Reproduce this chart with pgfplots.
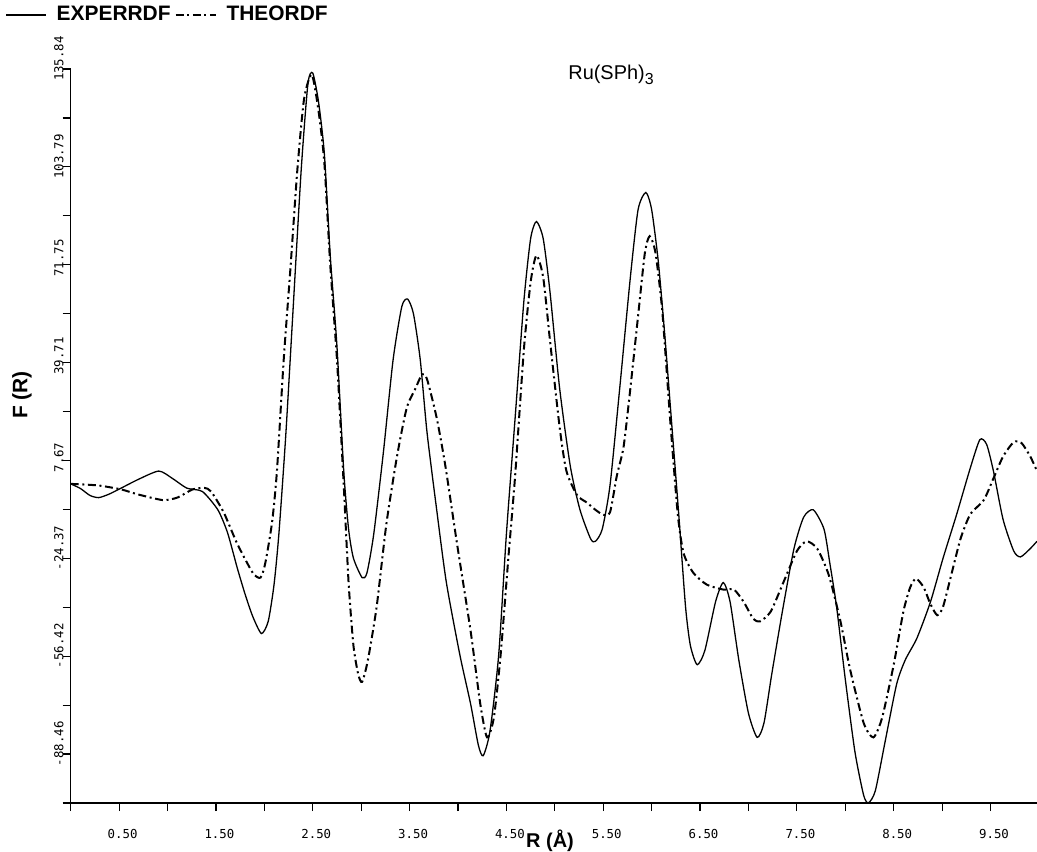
\documentclass[border=0pt]{standalone}
\usepackage{fontspec}
\setmainfont{Liberation Sans}
\newfontfamily\tickfont{DejaVu Sans Mono}
\usepackage{pgfplots}
\usepackage{pgfplotstable}
\pgfplotsset{compat=1.18}

% experimental RDF
\pgfplotstableread{
R F
0.00 0.0
0.10 -1.5
0.20 -3.8
0.29 -4.5
0.40 -3.3
0.52 -1.4
0.70 1.5
0.91 4.2
1.05 1.8
1.20 -1.4
1.36 -2.5
1.52 -8.5
1.62 -16
1.72 -27.5
1.80 -36
1.88 -43.4
1.97 -49
2.04 -45
2.10 -33
2.15 -16.4
2.22 15.3
2.29 53.4
2.38 102.5
2.45 131
2.50 134.5
2.56 125
2.62 108
2.68 75
2.75 45
2.82 4.2
2.87 -14.8
2.92 -24.3
3.01 -30.7
3.06 -29.1
3.13 -16.4
3.23 10.5
3.33 40.7
3.42 58.1
3.48 60.5
3.54 55.7
3.61 40.7
3.68 16.9
3.78 -8.5
3.88 -32.3
4.02 -56.1
4.13 -72
4.21 -85.5
4.26 -89
4.33 -81
4.42 -56.1
4.50 -16.4
4.59 21.6
4.68 59.7
4.75 80.3
4.81 85.9
4.88 80.3
4.95 62.9
5.05 31.2
5.16 5.8
5.26 -8.5
5.37 -18
5.42 -18.8
5.49 -14.8
5.57 -0.5
5.67 31.2
5.78 67.6
5.86 89.8
5.94 95.4
6.00 89.8
6.07 72.4
6.14 47
6.21 18.5
6.28 -10
6.35 -40.2
6.40 -52.9
6.47 -59.2
6.55 -54.5
6.66 -38.6
6.74 -32.3
6.81 -38.6
6.90 -57.6
7.00 -75.1
7.09 -83
7.16 -78.3
7.24 -62.4
7.35 -41.8
7.47 -21.2
7.57 -10.9
7.67 -8.5
7.78 -14.8
7.84 -25.9
7.91 -40.2
8.00 -64
8.10 -87.8
8.19 -102
8.24 -104.4
8.31 -100.5
8.41 -84.6
8.53 -65.6
8.62 -57.6
8.74 -50.5
8.88 -38.6
9.01 -24.3
9.15 -10
9.29 5.1
9.39 14.5
9.46 12.9
9.53 4.2
9.63 -11.7
9.74 -22
9.81 -23.9
9.91 -21.2
9.98 -18.8
}\exper

% theoretical RDF
\pgfplotstableread{
R F
0.00 0.0
0.28 -0.5
0.52 -1.8
0.69 -3.4
0.95 -5.3
1.10 -4.5
1.26 -1.8
1.38 -1.3
1.45 -2.5
1.58 -9.3
1.72 -19.6
1.88 -29.1
1.96 -30.7
2.01 -25.9
2.08 -12.5
2.13 4.2
2.20 40.7
2.27 70.8
2.34 102.5
2.41 126
2.49 134
2.56 122
2.62 105
2.68 72
2.75 40.7
2.82 -0.5
2.87 -32.3
2.92 -52.9
2.97 -62.4
3.01 -64.8
3.07 -57.6
3.16 -40.2
3.26 -13.2
3.37 9
3.47 24.8
3.56 31.2
3.63 35.9
3.68 34.3
3.78 21.6
3.87 5.8
3.99 -19.6
4.13 -48.1
4.23 -72
4.30 -83
4.37 -76.6
4.44 -56.1
4.52 -24.3
4.59 2.6
4.68 43.8
4.75 66
4.81 74.8
4.88 67.6
4.95 47
5.05 18.5
5.12 4.2
5.23 -3.7
5.33 -6.1
5.42 -8.5
5.50 -10.1
5.57 -9.3
5.64 2.6
5.71 12.1
5.78 31.2
5.86 55
5.93 75.6
5.98 81.1
6.04 75.6
6.11 56.5
6.19 21.6
6.27 -10
6.33 -22.7
6.43 -29.1
6.57 -33
6.74 -34.6
6.85 -34.6
6.95 -38.6
7.05 -44.2
7.12 -45
7.23 -41.8
7.36 -32.3
7.50 -22
7.60 -18.8
7.71 -21.2
7.83 -29.9
7.95 -45
8.05 -60.8
8.19 -78.3
8.29 -83
8.38 -76.6
8.50 -59.2
8.60 -41.8
8.67 -33.9
8.73 -31
8.81 -33.9
8.88 -39.4
8.95 -43
9.01 -40.2
9.10 -29.1
9.19 -18
9.29 -10
9.43 -5.3
9.53 1.8
9.63 9
9.74 13.7
9.82 13.4
9.91 9
9.98 4.2
}\theor

\begin{document}
\begin{tikzpicture}
\path[use as bounding box] (0bp,0bp) rectangle (518.5bp,426bp);
\begin{axis}[
  at={(35.35bp,24.5bp)}, anchor=south west,
  scale only axis, width=483.15bp, height=367bp,
  xmin=0, xmax=9.98, ymin=-104.48, ymax=135.84,
  axis x line*=bottom, axis y line*=left,
  axis line style={-, line width=0.75bp},
  tick align=outside,
  major tick length=4bp, minor tick length=4bp,
  tick style={black, line width=0.6bp},
  xtick={0.5,1.5,...,9.5},
  xticklabels={0.50,1.50,2.50,3.50,4.50,5.50,6.50,7.50,8.50,9.50},
  minor xtick={0,1,...,9},
  ytick={-88.46,-56.42,-24.37,7.67,39.71,71.75,103.79,135.84},
  yticklabels={-88.46,-56.42,-24.37,7.67,39.71,71.75,103.79,135.84},
  minor ytick={-104.48,-72.44,-40.40,-8.35,23.69,55.73,87.77,119.82},
  xticklabel style={font=\tickfont\fontsize{6.2}{7}\selectfont, xshift=1.75bp, yshift=-5.5bp},
  yticklabel style={font=\tickfont\fontsize{6.2}{7}\selectfont, rotate=90, anchor=south west, xshift=-9.5bp, yshift=-4bp},
  clip=false,
  legend columns=2,
  legend cell align=left,
  legend style={at={(axis description cs:-0.068,1.0736)}, anchor=west,
    draw=none, fill=none, inner sep=0pt,
    font=\bfseries\fontsize{10.5}{12}\selectfont,
    /tikz/every odd column/.append style={column sep=3bp},
    /tikz/every even column/.append style={column sep=0pt}},
  legend image code/.code={\draw[#1] (0bp,0bp) -- (20bp,0bp);},
]
\addplot[black, line width=0.65bp, smooth, tension=0.4] table[x=R, y=F] {\exper};
\addlegendentry{EXPERRDF}
\addplot[black, line width=1bp, smooth, tension=0.4,
  dash pattern=on 4bp off 1.8bp on 1bp off 1.8bp] table[x=R, y=F] {\theor};
\addlegendentry{THEORDF}
\end{axis}
\node[font=\fontsize{10}{12}\selectfont] at (305.5bp,388.5bp) {Ru(SPh)\raisebox{-0.5ex}{\fontsize{8}{9}\selectfont 3}};
\node[font=\bfseries\fontsize{10.5}{12}\selectfont, rotate=90] at (11bp,228.5bp) {F (R)};
\node[font=\bfseries\fontsize{10}{12}\selectfont] at (275bp,5.5bp) {R (Å)};
\end{tikzpicture}
\end{document}
